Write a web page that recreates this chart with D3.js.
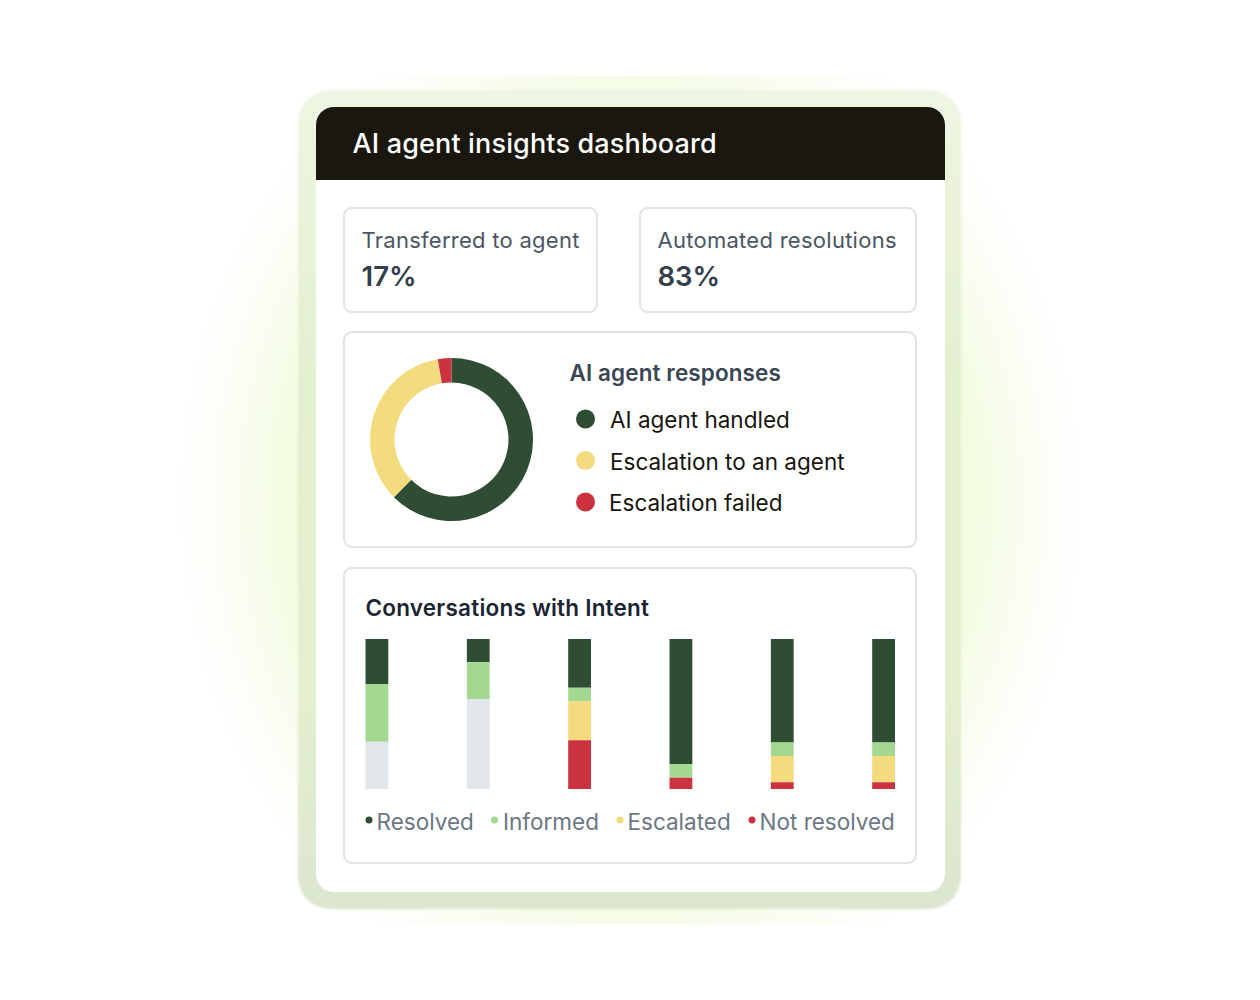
<!DOCTYPE html>
<html>
<head>
<meta charset="utf-8">
<title>AI agent insights dashboard</title>
<script src="https://d3js.org/d3.v7.min.js"></script>
<style>
  html, body { margin: 0; background: #fff; }
  svg { display: block; font-family: Inter, "Noto Sans", sans-serif; }
</style>
</head>
<body>
<div id="chart"></div>
<script>
const dashboardTitle = "AI agent insights dashboard";

const kpiLabels = ["Transferred to agent", "Automated resolutions"];
const kpiValues = ["17%", "83%"];

const donutTitle = "AI agent responses";
const donutLabels = ["AI agent handled", "Escalation to an agent", "Escalation failed"];
const donutValues = [62.5, 34.8, 2.7];
const donutColors = ["#2f4d33", "#f4db7d", "#cc3340"];

const barTitle = "Conversations with Intent";
const barCategories = ["a", "b", "c", "d", "e", "f"];
const barKeys = ["Resolved", "Informed", "Escalated", "Not resolved", "Other"];
const barColors = ["#2f4d33", "#a2d88f", "#f4db7d", "#cc3340", "#e1e6ea"];
const resolved = [30, 15.5, 32.5, 83.5, 69, 69];
const informed = [38.5, 24.5, 9, 9, 9, 9];
const escalated = [0, 0, 26, 0, 17.5, 17.5];
const notResolved = [0, 0, 32.5, 7.5, 4.5, 4.5];
const other = [31.5, 60, 0, 0, 0, 0];

const svg = d3.select("#chart").append("svg")
  .attr("width", 1260)
  .attr("height", 1000);

const defs = svg.append("defs");

const glowGrad = defs.append("radialGradient")
  .attr("id", "glow")
  .attr("gradientUnits", "userSpaceOnUse")
  .attr("cx", 0).attr("cy", 0).attr("r", 1)
  .attr("gradientTransform", "translate(630,500) scale(455,520)");
glowGrad.append("stop").attr("offset", "0.6").attr("stop-color", "#eefad4");
glowGrad.append("stop").attr("offset", "0.75").attr("stop-color", "#f3fce0");
glowGrad.append("stop").attr("offset", "0.88").attr("stop-color", "#fafdf3");
glowGrad.append("stop").attr("offset", "1").attr("stop-color", "#ffffff");

defs.append("filter")
  .attr("id", "soft")
  .append("feGaussianBlur")
  .attr("stdDeviation", 1);

const haloGrad = defs.append("linearGradient")
  .attr("id", "halo")
  .attr("x1", 0).attr("y1", 0).attr("x2", 0).attr("y2", 1);
haloGrad.append("stop").attr("offset", "0%").attr("stop-color", "#edf6e2");
haloGrad.append("stop").attr("offset", "35%").attr("stop-color", "#e3f0cf");
haloGrad.append("stop").attr("offset", "75%").attr("stop-color", "#e3efcf");
haloGrad.append("stop").attr("offset", "100%").attr("stop-color", "#dce6cf");

// soft glow behind the card, cut off above and below
svg.append("rect")
  .attr("x", 170).attr("y", 76)
  .attr("width", 920).attr("height", 848)
  .attr("fill", "url(#glow)");

svg.append("rect")
  .attr("x", 298).attr("y", 90)
  .attr("width", 663).attr("height", 819)
  .attr("rx", 32)
  .attr("fill", "url(#halo)")
  .attr("filter", "url(#soft)");

svg.append("rect")
  .attr("x", 316).attr("y", 107)
  .attr("width", 629).attr("height", 785)
  .attr("rx", 18)
  .attr("fill", "#fff");

// header with only the top corners rounded
svg.append("path")
  .attr("d", "M316,180V125a18,18 0 0 1 18,-18H927a18,18 0 0 1 18,18V180Z")
  .attr("fill", "#1a170f");

svg.append("text")
  .attr("x", 352.5).attr("y", 153)
  .attr("fill", "#fff")
  .style("font-size", "27px")
  .style("font-weight", 500)
  .style("letter-spacing", "0.15px")
  .text(dashboardTitle);

function panel(x, y, w, h) {
  svg.append("rect")
    .attr("x", x).attr("y", y)
    .attr("width", w).attr("height", h)
    .attr("rx", 8)
    .attr("fill", "#fff")
    .attr("stroke", "#dfe3e8")
    .attr("stroke-width", 2);
}

// KPI cards
const kpiBoxes = [[344, 208, 253, 104], [640, 208, 276, 104]];
kpiBoxes.forEach((b, i) => {
  panel(b[0], b[1], b[2], b[3]);
  svg.append("text")
    .attr("x", b[0] + 17.5).attr("y", 248)
    .attr("fill", "#4b5663")
    .style("font-size", "22px")
    .style("letter-spacing", "0.27px")
    .text(kpiLabels[i]);
  svg.append("text")
    .attr("x", b[0] + 17.5).attr("y", 286)
    .attr("fill", "#333f4d")
    .style("font-size", "27.5px")
    .style("font-weight", 600)
    .text(kpiValues[i]);
});

// Donut panel
panel(344, 332, 572, 215);

const pie = d3.pie().sort(null);
const arc = d3.arc().innerRadius(57).outerRadius(81.5);

svg.append("g")
  .attr("transform", "translate(451.5,439.5)")
  .selectAll("path")
  .data(pie(donutValues))
  .join("path")
  .attr("d", arc)
  .attr("fill", (d, i) => donutColors[i]);

svg.append("text")
  .attr("x", 569.5).attr("y", 381)
  .attr("fill", "#3a4653")
  .style("font-size", "22.5px")
  .style("font-weight", 600)
  .style("letter-spacing", "0.1px")
  .text(donutTitle);

const donutLegendY = d3.scalePoint()
  .domain(donutLabels)
  .range([419, 502]);

donutLabels.forEach((label, i) => {
  const y = donutLegendY(label);
  svg.append("circle")
    .attr("cx", 585.5).attr("cy", y)
    .attr("r", 9.5)
    .attr("fill", donutColors[i]);
  svg.append("text")
    .attr("x", i === 2 ? 609 : 610).attr("y", y + 9)
    .attr("fill", "#17150e")
    .style("font-size", "22.5px")
    .text(label);
});

// Stacked bars panel
panel(344, 568, 572, 295);

svg.append("text")
  .attr("x", 365.5).attr("y", 616)
  .attr("fill", "#1a2433")
  .style("font-size", "22.5px")
  .style("font-weight", 600)
  .style("letter-spacing", "0.22px")
  .text(barTitle);

const barRows = barCategories.map((c, i) => ({
  category: c,
  Resolved: resolved[i],
  Informed: informed[i],
  Escalated: escalated[i],
  "Not resolved": notResolved[i],
  Other: other[i]
}));

const x = d3.scaleBand()
  .domain(barCategories)
  .range([365.5, 895])
  .paddingInner(0.775)
  .paddingOuter(0);

const y = d3.scaleLinear()
  .domain([0, 100])
  .range([639, 789]);

const color = d3.scaleOrdinal().domain(barKeys).range(barColors);
const series = d3.stack().keys(barKeys)(barRows);

svg.append("g")
  .selectAll("g")
  .data(series)
  .join("g")
  .attr("fill", d => color(d.key))
  .selectAll("rect")
  .data(d => d)
  .join("rect")
  .attr("x", d => x(d.data.category))
  .attr("y", d => y(d[0]))
  .attr("width", x.bandwidth())
  .attr("height", d => y(d[1]) - y(d[0]));

// Bar legend
const barLegend = [
  { key: "Resolved", dot: 369, text: 376.5 },
  { key: "Informed", dot: 494.5, text: 503 },
  { key: "Escalated", dot: 620, text: 627.5 },
  { key: "Not resolved", dot: 752, text: 759.5 }
];

barLegend.forEach(d => {
  svg.append("circle")
    .attr("cx", d.dot).attr("cy", 820)
    .attr("r", 3.5)
    .attr("fill", color(d.key));
  svg.append("text")
    .attr("x", d.text).attr("y", 830)
    .attr("fill", "#6b7785")
    .style("font-size", "22.5px")
    .text(d.key);
});
</script>
</body>
</html>
